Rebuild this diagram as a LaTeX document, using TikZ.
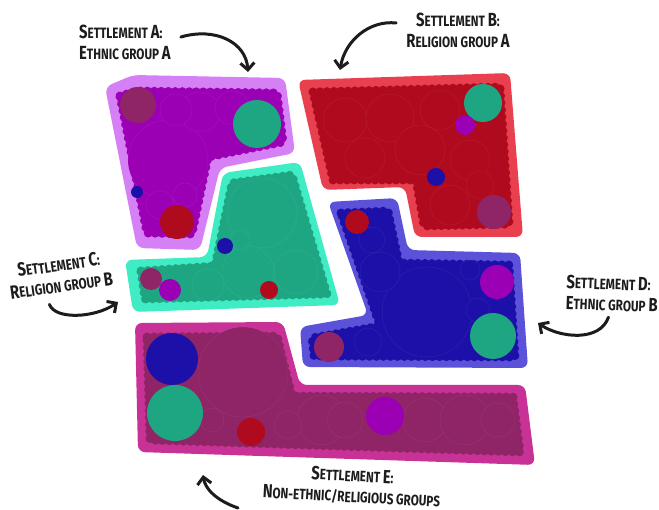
\documentclass[tikz,border=0pt]{standalone}
\usepackage{fontspec}
\newfontfamily\lblfont[FakeStretch=0.78]{Fira Sans}
\usetikzlibrary{arrows.meta,decorations.markings}

\definecolor{Aborder}{RGB}{214,128,245}
\definecolor{Afill}{RGB}{155,0,181}
\definecolor{Bborder}{RGB}{232,64,78}
\definecolor{Bfill}{RGB}{176,10,30}
\definecolor{Cborder}{RGB}{64,236,196}
\definecolor{Cfill}{RGB}{30,166,130}
\definecolor{Dborder}{RGB}{92,82,218}
\definecolor{Dfill}{RGB}{28,16,168}
\definecolor{Eborder}{RGB}{200,50,150}
\definecolor{Efill}{RGB}{143,36,102}
\definecolor{ink}{RGB}{28,28,28}

\newcommand{\firstcap}[1]{{\fontsize{19}{21}\selectfont #1}}

\tikzset{
  rim/.style={fill=#1, rounded corners=7pt},
  core/.style={fill=#1},
  edgebubbles/.style={decorate, decoration={markings,
      mark=between positions 0 and 1 step 7pt with {\fill[#1] (0,0) circle (4.5pt);}}},
  packed/.style={draw=white, draw opacity=0.07, line width=0.5pt},
  sttext/.style={font=\lblfont\bfseries\fontsize{15}{21}\selectfont, text=ink,
      align=center, inner sep=0pt},
  hand/.style={draw=ink, line width=3pt, line cap=round,
      -{Straight Barb[length=7pt, width=14pt, line width=3pt]}}
}

\begin{document}
\begin{tikzpicture}[x=1pt, y=-1pt]
  \useasboundingbox (0,0) rectangle (659,510);

  % settlement A
  \path[rim=Aborder] (105,87) -- (133,75) -- (285,78) -- (295,153) -- (220,168)
    -- (200,250) -- (137,248) -- cycle;
  \path[core=Afill] (120,96) -- (137,91) -- (277,93) -- (283,142) -- (208,157)
    -- (192,234) -- (147,233) -- cycle;
  \path[edgebubbles=Afill] (120,96) -- (137,91) -- (277,93) -- (283,142) -- (208,157)
    -- (192,234) -- (147,233) -- cycle;
  \foreach \cx/\cy/\r in {168/160/40, 200/112/20, 232/108/17, 176/110/16, 160/205/14, 185/195/12}
    \fill[Afill, packed] (\cx,\cy) circle (\r);
  \fill[Efill] (138,105) circle (18);
  \fill[Cfill] (257,124) circle (24);
  \fill[Dfill] (137,192) circle (6);
  \fill[Bfill] (177,222) circle (17);

  % settlement B
  \path[rim=Bborder] (298,80) -- (510,73) -- (523,237) -- (415,237) -- (405,187)
    -- (323,190) -- cycle;
  \path[core=Bfill] (313,92) -- (500,87) -- (509,224) -- (424,226) -- (416,180)
    -- (333,180) -- cycle;
  \path[edgebubbles=Bfill] (313,92) -- (500,87) -- (509,224) -- (424,226) -- (416,180)
    -- (333,180) -- cycle;
  \foreach \cx/\cy/\r in {345/120/22, 390/118/24, 440/110/20, 365/158/20, 420/150/25,
      470/160/20, 450/205/20, 480/185/14}
    \fill[Bfill, packed] (\cx,\cy) circle (\r);
  \fill[Cfill] (483,103) circle (19);
  \fill[Afill] (465,125) circle (10);
  \fill[Dfill] (436,177) circle (9);
  \fill[Efill] (494,212) circle (17);

  % settlement C
  \path[rim=Cborder] (125,260) -- (207,257) -- (223,173) -- (300,162) -- (340,305)
    -- (133,312) -- cycle;
  \path[core=Cfill] (141,271) -- (215,266) -- (232,183) -- (292,175) -- (327,294)
    -- (145,299) -- cycle;
  \path[edgebubbles=Cfill] (141,271) -- (215,266) -- (232,183) -- (292,175) -- (327,294)
    -- (145,299) -- cycle;
  \foreach \cx/\cy/\r in {262/213/35, 248/272/26, 296/272/22, 208/285/16, 240/240/10}
    \fill[Cfill, packed] (\cx,\cy) circle (\r);
  \fill[Dfill] (225,246) circle (8);
  \fill[Efill] (151,279) circle (11);
  \fill[Afill] (170,290) circle (11);
  \fill[Bfill] (269,290) circle (9);

  % settlement D
  \path[rim=Dborder] (328,202) -- (397,198) -- (408,250) -- (520,253) -- (528,368)
    -- (303,367) -- (300,327) -- (368,315) -- cycle;
  \path[core=Dfill] (341,213) -- (388,211) -- (399,263) -- (509,265) -- (515,357)
    -- (314,356) -- (312,338) -- (380,326) -- cycle;
  \path[edgebubbles=Dfill] (341,213) -- (388,211) -- (399,263) -- (509,265) -- (515,357)
    -- (314,356) -- (312,338) -- (380,326) -- cycle;
  \foreach \cx/\cy/\r in {427/312/45, 380/272/20, 372/240/13, 368/342/14, 478/310/12,
      470/270/10}
    \fill[Dfill, packed] (\cx,\cy) circle (\r);
  \fill[Bfill] (357,222) circle (12);
  \fill[Afill] (497,282) circle (17);
  \fill[Cfill] (493,336) circle (23);
  \fill[Efill] (329,347) circle (15);

  % settlement E
  \path[rim=Eborder] (135,323) -- (283,322) -- (300,385) -- (525,385) -- (535,465)
    -- (138,452) -- cycle;
  \path[core=Efill] (147,337) -- (277,336) -- (292,396) -- (513,397) -- (520,452)
    -- (150,440) -- cycle;
  \path[edgebubbles=Efill] (147,337) -- (277,336) -- (292,396) -- (513,397) -- (520,452)
    -- (150,440) -- cycle;
  \foreach \cx/\cy/\r in {243/372/45, 322/420/25, 345/420/18, 425/420/22, 465/420/25,
      498/420/17, 212/420/12, 288/425/14}
    \fill[Efill, packed] (\cx,\cy) circle (\r);
  \fill[Dfill] (172,359) circle (26);
  \fill[Cfill] (175,413) circle (28);
  \fill[Bfill] (251,432) circle (14);
  \fill[Afill] (385,416) circle (19);

  % labels
  \node[sttext, align=left, anchor=west] (labA) at (79,42)
    {\firstcap{S}ETTLEMENT \firstcap{A}:\\\firstcap{E}THNIC GROUP \firstcap{A}};
  \node[sttext] (labB) at (458,30)
    {\firstcap{S}ETTLEMENT \firstcap{B}:\\\firstcap{R}ELIGION GROUP \firstcap{A}};
  \node[sttext, rotate=8] (labC) at (60,275)
    {\firstcap{S}ETTLEMENT \firstcap{C}:\\\firstcap{R}ELIGION GROUP \firstcap{B}};
  \node[sttext, align=left, anchor=west, rotate=-2] (labD) at (566,292)
    {\firstcap{S}ETTLEMENT \firstcap{D}:\\\firstcap{E}THNIC GROUP \firstcap{B}};
  \node[sttext, rotate=-3] (labE) at (352,486)
    {\firstcap{S}ETTLEMENT \firstcap{E}:\\\firstcap{N}ON-ETHNIC/RELIGIOUS GROUPS};

  % arrows
  \coordinate (tipA) at (248,72);
  \coordinate (tipB) at (340,70);
  \coordinate (tipC) at (118,302);
  \coordinate (tipD) at (538,323);
  \coordinate (tipE) at (203,475);
  \coordinate (tailE) at (238,508);
  \draw[hand] ([xshift=10pt, yshift=5pt]labA.east) .. controls (215,27) and (246,42) .. (tipA);
  \draw[hand] ([xshift=-10pt, yshift=7pt]labB.west) .. controls (370,20) and (345,40) .. (tipB);
  \draw[hand] ([xshift=-13pt, yshift=-12pt]labC.south) .. controls (55,320) and (95,318) .. (tipC);
  \draw[hand] ([xshift=-3pt, yshift=-6pt]labD.south) .. controls (600,342) and (560,338) .. (tipD);
  \draw[hand] (tailE) .. controls (215,500) and (205,488) .. (tipE);
\end{tikzpicture}
\end{document}
